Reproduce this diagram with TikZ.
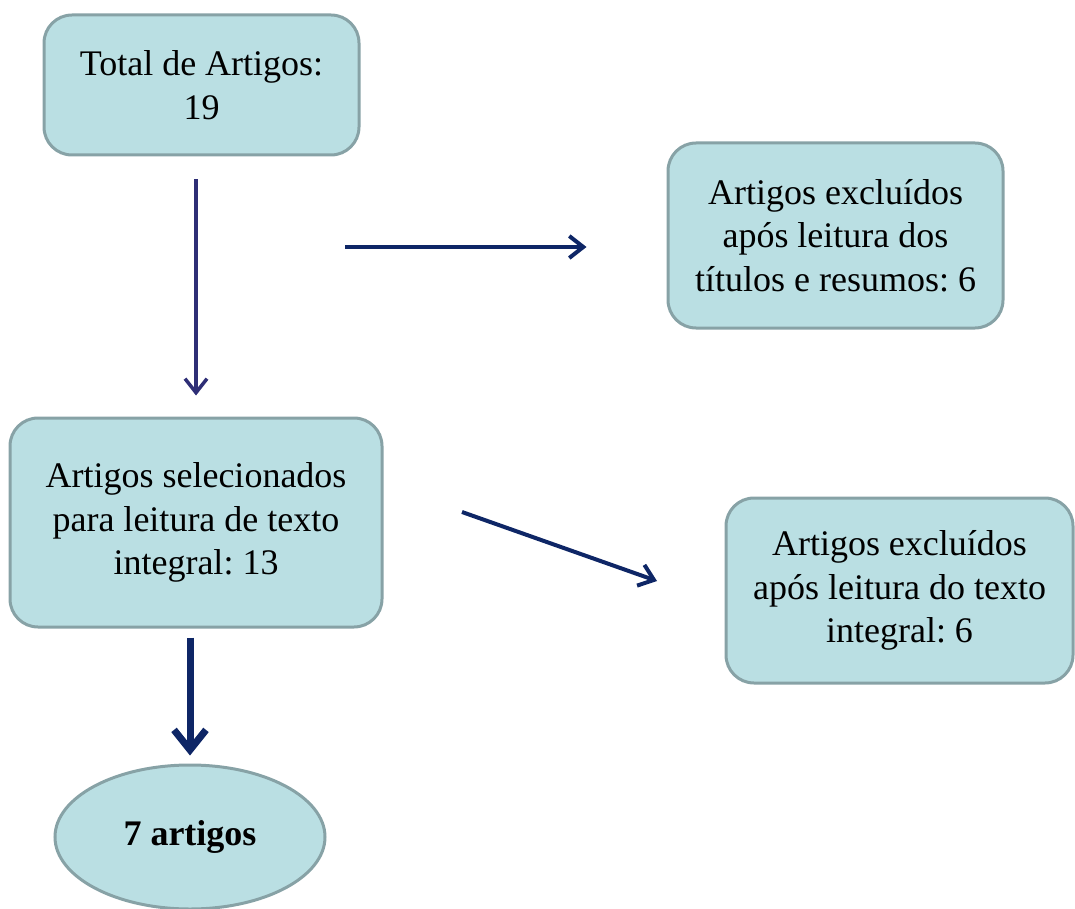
\documentclass[tikz,border=0pt]{standalone}
\usepackage{fontspec}
\setmainfont{Liberation Serif}
\usetikzlibrary{shapes.geometric,arrows.meta}
\definecolor{caixafundo}{RGB}{186,223,227}
\definecolor{caixaborda}{RGB}{135,162,166}
\definecolor{azulseta}{RGB}{14,38,102}
\definecolor{roxoseta}{RGB}{46,46,118}
\frenchspacing

\begin{document}
\begin{tikzpicture}[x=1pt, y=-1pt,
  every node/.style = {align=center, font=\fontsize{36}{43.5}\selectfont},
  caixa/.style = {shape=rectangle, rounded corners=28pt,
    draw=caixaborda, line width=3pt, fill=caixafundo, inner sep=0pt},
  oval/.style = {shape=ellipse, draw=caixaborda, line width=3pt,
    fill=caixafundo, inner sep=0pt},
  seta/.style = {draw=azulseta, line width=4pt,
    -{Straight Barb[length=14pt,width=22pt]}}]
  \useasboundingbox (0,0) rectangle (1075,909);
  \node[caixa, minimum width=315pt, minimum height=140pt] (total) at (201.5,85)
    {Total de Artigos:\\19};
  \node[caixa, minimum width=335pt, minimum height=185pt] (excl1) at (835.5,235.5)
    {Artigos excluídos\\após leitura dos\\títulos e resumos: 6};
  \node[caixa, minimum width=372pt, minimum height=209pt] (sel) at (196,522.5)
    {Artigos selecionados\\para leitura de texto\\integral: 13};
  \node[caixa, minimum width=347pt, minimum height=185pt] (excl2) at (899.5,590.5)
    {Artigos excluídos\\após leitura do texto\\integral: 6};
  \node[oval, minimum width=270pt, minimum height=144pt] (fim) at (190,837)
    {\textbf{7 artigos}};
  % setas
  \coordinate (h1) at (345,247);
  \coordinate (d1) at (462,512);
  \coordinate (d2) at (657,581);
  \draw[seta, draw=roxoseta, line width=3.5pt, shorten <=23pt, shorten >=21pt]
    (total.south -| sel.north) -- (sel.north);
  \draw[seta, shorten >=80pt] (h1) -- (h1 -| excl1.west);
  \draw[seta] (d1) -- (d2);
  \draw[seta, line width=7pt, -{Straight Barb[length=20pt,width=32pt]},
    shorten <=9pt, shorten >=8pt] (sel.south -| fim.north) -- (fim.north);
\end{tikzpicture}
\end{document}
